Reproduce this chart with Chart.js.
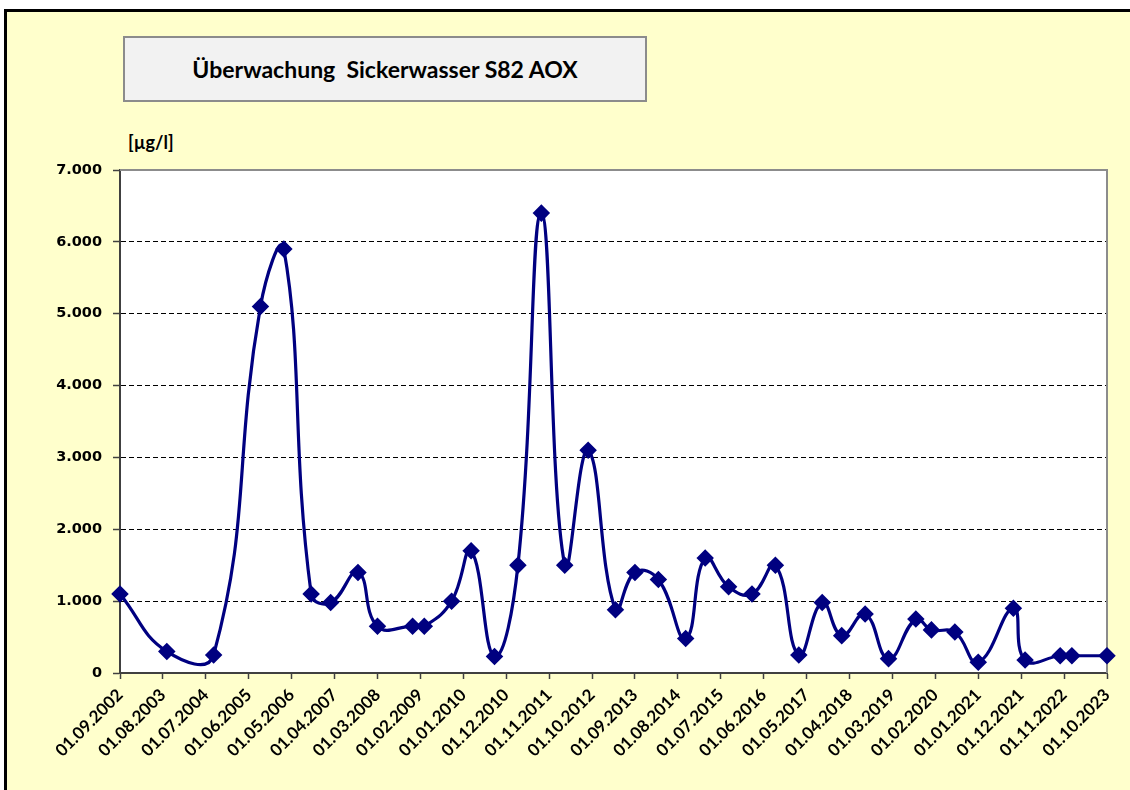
<!DOCTYPE html>
<html>
<head>
<meta charset="utf-8">
<script src="https://cdn.jsdelivr.net/npm/chart.js@4.4.1/dist/chart.umd.min.js"></script>
<style>
  html, body { margin: 0; padding: 0; background: #ffffff; }
  #frame { position: absolute; left: 4px; top: 9px; width: 1126px; height: 781px;
           background: #FFFFCC; border-top: 3px solid #000; border-left: 3px solid #000; box-sizing: border-box; }
  #titlebox { position: absolute; left: 123px; top: 36px; width: 524px; height: 66px; box-sizing: border-box;
              background: #F2F2F2; border: 2px solid #8C8C8C;
              display: flex; align-items: center; justify-content: center;
              font-family: Lato, "Open Sans", sans-serif; font-weight: bold; font-size: 23px; color: #000; }
  #unit { position: absolute; left: 128px; top: 131px; font-family: Lato, sans-serif; font-weight: bold; font-size: 18px; color: #000; }
  #c { position: absolute; left: 0; top: 0; }
</style>
</head>
<body>
<div id="frame"></div>
<div id="titlebox">Überwachung&nbsp;&nbsp;Sickerwasser S82 AOX</div>
<div id="unit">[µg/l]</div>
<canvas id="c" width="1130" height="790"></canvas>
<script>
// ---- data ----
const sampleDates = [
  '01.09.2002','01.09.2003','01.09.2004','01.09.2005','01.03.2006','01.10.2006','01.03.2007','01.10.2007',
  '01.03.2008','01.12.2008','01.03.2009','01.10.2009','01.03.2010','01.09.2010','01.03.2011','01.09.2011',
  '01.03.2012','01.09.2012','01.04.2013','01.09.2013','01.03.2014','01.10.2014','01.03.2015','01.09.2015',
  '01.03.2016','01.09.2016','01.03.2017','01.09.2017','01.02.2018','01.08.2018','01.02.2019','01.09.2019',
  '01.01.2020','01.07.2020','01.01.2021','01.10.2021','01.01.2022','01.10.2022','01.01.2023','01.10.2023'
];
const aoxValues = [
  1100, 300, 250, 5100, 5900, 1100, 980, 1400,
  650, 650, 650, 1000, 1700, 230, 1500, 6400,
  1500, 3100, 880, 1400, 1300, 480, 1600, 1200,
  1100, 1500, 250, 980, 520, 820, 200, 750,
  600, 570, 150, 900, 180, 240, 240, 240
];
const xTickLabels = [
  '01.09.2002','01.08.2003','01.07.2004','01.06.2005','01.05.2006','01.04.2007','01.03.2008','01.02.2009',
  '01.01.2010','01.12.2010','01.11.2011','01.10.2012','01.09.2013','01.08.2014','01.07.2015','01.06.2016',
  '01.05.2017','01.04.2018','01.03.2019','01.02.2020','01.01.2021','01.12.2021','01.11.2022','01.10.2023'
];
const yTicks = [0, 1000, 2000, 3000, 4000, 5000, 6000, 7000];

// months since the first tick date
function monthIndex(s) {
  const p = s.split('.');
  const base = xTickLabels[0].split('.');
  return (parseInt(p[2]) - parseInt(base[2])) * 12 + (parseInt(p[1]) - parseInt(base[1]));
}
const xTickValues = xTickLabels.map(monthIndex);
const points = sampleDates.map((d, i) => ({ x: monthIndex(d), y: aoxValues[i] }));

const plotBg = {
  id: 'plotBg',
  beforeDraw(chart) {
    const { ctx, chartArea: a } = chart;
    ctx.save();
    ctx.fillStyle = '#FFFFFF';
    ctx.fillRect(a.left, a.top, a.right - a.left, a.bottom - a.top);
    ctx.restore();
  },
  beforeDatasetsDraw(chart) {
    const { ctx, chartArea: a } = chart;
    ctx.save();
    ctx.strokeStyle = '#8C8C8C';
    ctx.lineWidth = 2;
    ctx.beginPath();
    ctx.moveTo(a.left, a.top);
    ctx.lineTo(a.right, a.top);
    ctx.lineTo(a.right, a.bottom);
    ctx.stroke();
    ctx.restore();
  }
};

const fmt = v => v === 0 ? '0' : String(v).replace(/\B(?=(\d{3})+(?!\d))/g, '.');

new Chart(document.getElementById('c'), {
  type: 'line',
  data: {
    datasets: [{
      data: points,
      borderColor: '#000080',
      backgroundColor: '#000080',
      borderWidth: 3.2,
      tension: 0.45,
      pointStyle: 'rectRot',
      pointRadius: 6.5,
      pointHoverRadius: 6.5,
      pointBackgroundColor: '#000080',
      pointBorderColor: '#000080',
      clip: false
    }]
  },
  options: {
    responsive: false,
    animation: false,
    events: [],
    layout: { padding: { top: 170, right: 23, left: 0, bottom: 0 } },
    plugins: { legend: { display: false }, title: { display: false }, tooltip: { enabled: false } },
    scales: {
      x: {
        type: 'linear',
        min: xTickValues[0],
        max: xTickValues[xTickValues.length - 1],
        afterBuildTicks(scale) { scale.ticks = xTickValues.map(v => ({ value: v })); },
        afterFit(scale) { scale.height = 117; scale.paddingLeft = 0; scale.paddingRight = 0; },
        ticks: {
          autoSkip: false,
          maxRotation: 45, minRotation: 45,
          padding: 6,
          color: '#000',
          font: { family: 'Lato', weight: 'bold', size: 17 },
          callback(v) { const i = xTickValues.indexOf(v); return i >= 0 ? xTickLabels[i] : ''; }
        },
        grid: { drawOnChartArea: false, drawTicks: true, tickLength: 6, color: '#404040', tickColor: '#404040', tickWidth: 1.5 },
        border: { display: true, color: '#404040', width: 2 }
      },
      y: {
        min: yTicks[0],
        max: yTicks[yTicks.length - 1],
        afterBuildTicks(scale) { scale.ticks = yTicks.map(v => ({ value: v })); },
        afterFit(scale) { scale.width = 120; },
        ticks: {
          padding: 11,
          color: '#000',
          font: { family: 'DejaVu Sans', weight: 'bold', size: 14.5 },
          callback: v => fmt(v)
        },
        grid: {
          drawTicks: true, tickLength: 7,
          color: c => (c.tick && (c.tick.value === yTicks[0] || c.tick.value === yTicks[yTicks.length - 1])) ? 'rgba(0,0,0,0)' : '#000000',
          tickColor: '#404040', tickWidth: 1.5, lineWidth: 1
        },
        border: { display: true, color: '#404040', width: 2, dash: [5, 3] }
      }
    }
  },
  plugins: [plotBg]
});
</script>
</body>
</html>
